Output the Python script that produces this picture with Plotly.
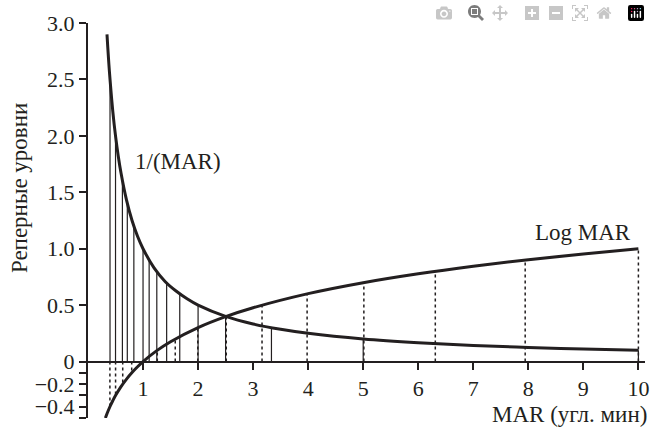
import plotly.graph_objects as go

# ---- data ----
# 1/(MAR) curve points
curve_mar = [0.345, 0.36, 0.38, 0.4, 0.45, 0.5, 0.55, 0.6, 0.7, 0.8, 0.9, 1.0, 1.2, 1.4,
             1.6, 1.8, 2.0, 2.5, 3.0, 3.5, 4.0, 5.0, 6.0, 7.0, 8.0, 9.0, 10.0]
curve_inv = [2.9, 2.78, 2.63, 2.5, 2.22, 2.0, 1.82, 1.67, 1.43, 1.25, 1.11, 1.0, 0.83, 0.71,
             0.625, 0.556, 0.5, 0.4, 0.333, 0.286, 0.25, 0.2, 0.167, 0.143, 0.125, 0.111, 0.1]
# Log MAR curve points
log_mar_x = [0.316, 0.35, 0.4, 0.45, 0.5, 0.6, 0.7, 0.8, 0.9, 1.0, 1.25, 1.5, 2.0, 2.5,
             3.0, 4.0, 5.0, 6.0, 7.0, 8.0, 9.0, 10.0]
log_mar_y = [-0.5, -0.456, -0.398, -0.347, -0.301, -0.222, -0.155, -0.097, -0.046, 0.0,
             0.097, 0.176, 0.301, 0.398, 0.477, 0.602, 0.699, 0.778, 0.845, 0.903, 0.954, 1.0]
# decimal acuity reference levels (solid verticals)
acuity_mar = [0.4, 0.5, 0.625, 0.714, 0.833, 1.0, 1.111, 1.25, 1.429, 1.667, 2.0, 2.5,
              3.333, 5.0, 10.0]
acuity_val = [2.5, 2.0, 1.6, 1.4, 1.2, 1.0, 0.9, 0.8, 0.7, 0.6, 0.5, 0.4, 0.3, 0.2, 0.1]
# logMAR reference levels (dotted verticals)
logstep_mar = [0.398, 0.501, 0.631, 0.794, 1.259, 1.585, 1.995, 2.512, 3.162, 3.981,
               5.012, 6.310, 7.943, 10.0]
logstep_val = [-0.4, -0.3, -0.2, -0.1, 0.1, 0.2, 0.3, 0.4, 0.5, 0.6, 0.7, 0.8, 0.9, 1.0]

x_ticks = [1, 2, 3, 4, 5, 6, 7, 8, 9, 10]
y_tickvals = [3.0, 2.5, 2.0, 1.5, 1.0, 0.5, 0.0, -0.1, -0.2, -0.3, -0.4, -0.5]
y_ticktext = ["3.0", "2.5", "2.0", "1.5", "1.0", "0.5", "0", "", "\u22120.2", "", "\u22120.4", ""]

INK = "#231f20"
FONT = "Liberation Serif"
FS_TICK = 22
FS_LAB = 23

fig = go.Figure()

# solid verticals
sx, sy = [], []
for m, v in zip(acuity_mar, acuity_val):
    sx += [m, m, None]
    sy += [0, v, None]
fig.add_trace(go.Scatter(x=sx, y=sy, mode="lines", line=dict(color=INK, width=1.2),
                         hoverinfo="skip", showlegend=False))

# dotted verticals
dx, dy = [], []
for m, v in zip(logstep_mar, logstep_val):
    dx += [m, m, None]
    dy += [0, v, None]
fig.add_trace(go.Scatter(x=dx, y=dy, mode="lines", line=dict(color=INK, width=1.5, dash="dot"),
                         hoverinfo="skip", showlegend=False))

# curves
fig.add_trace(go.Scatter(x=curve_mar, y=curve_inv, mode="lines",
                         line=dict(color=INK, width=3, shape="spline"), showlegend=False))
fig.add_trace(go.Scatter(x=log_mar_x, y=log_mar_y, mode="lines",
                         line=dict(color=INK, width=3, shape="spline"), showlegend=False))

fig.update_layout(
    width=650, height=430,
    margin=dict(l=88, r=5, t=23, b=12, autoexpand=False),
    paper_bgcolor="white", plot_bgcolor="white",
    font=dict(family=FONT, size=FS_TICK, color=INK),
    xaxis=dict(range=[0, 10.12], tickvals=x_ticks, ticks="outside", ticklen=7, tickwidth=2,
               tickcolor=INK, showline=True, linewidth=2, linecolor=INK, showgrid=False,
               zeroline=False, anchor="free", position=0.5 / 3.5, automargin=False,
               tickfont=dict(family=FONT, size=FS_TICK, color=INK)),
    yaxis=dict(range=[-0.5, 3.0], tickvals=y_tickvals, ticktext=y_ticktext, ticks="outside",
               ticklen=7, tickwidth=2, tickcolor=INK, showline=True, linewidth=2,
               linecolor=INK, showgrid=False, zeroline=False, automargin=False,
               tickfont=dict(family=FONT, size=FS_TICK, color=INK)),
    annotations=[
        dict(text="Реперные уровни", xref="paper", yref="paper", x=-0.1239, y=0.582,
             xanchor="center", yanchor="middle", textangle=-90, showarrow=False,
             font=dict(family=FONT, size=FS_LAB, color=INK)),
        dict(text="1/(MAR)", xref="x", yref="y", x=0.82, y=1.77, xanchor="left",
             yanchor="middle", showarrow=False, font=dict(family=FONT, size=FS_LAB, color=INK)),
        dict(text="Log MAR", xref="x", yref="y", x=9.9, y=1.14, xanchor="right",
             yanchor="middle", showarrow=False, font=dict(family=FONT, size=FS_LAB, color=INK)),
        dict(text="MAR (угл. мин)", xref="paper", yref="paper", x=1.008, y=0.008,
             xanchor="right", yanchor="middle", showarrow=False,
             font=dict(family=FONT, size=FS_LAB, color=INK)),
    ],
)

# remove the default 8px page margin so the 650x430 figure fills the window exactly
fig.write_html("out.html",
               post_script="document.body.style.margin='0';document.body.style.overflow='hidden';")
